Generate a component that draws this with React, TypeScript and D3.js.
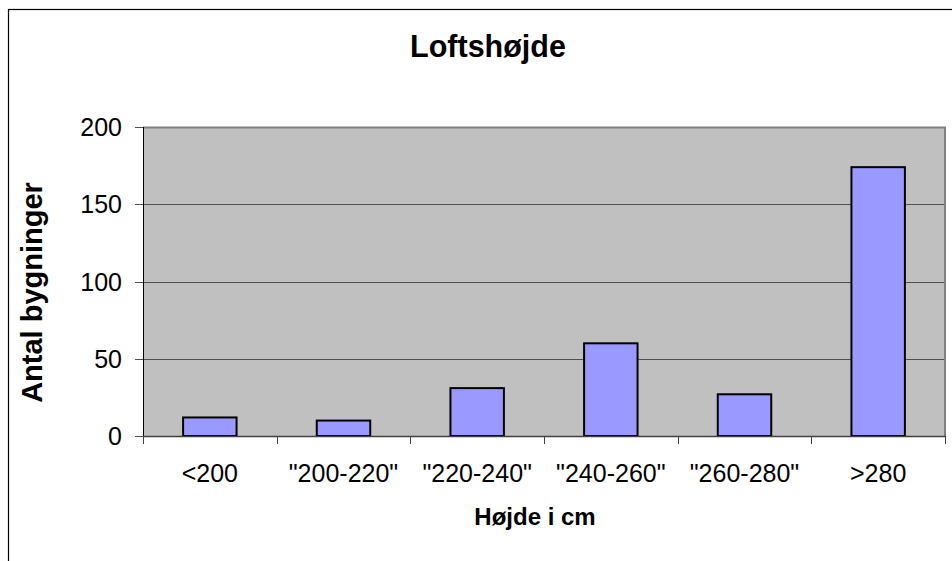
import { useEffect, useRef } from "react";
import * as d3 from "d3";

const categories = ["<200", "\"200-220\"", "\"220-240\"", "\"240-260\"", "\"260-280\"", ">280"];
const counts = [12, 10, 31, 60, 27, 174];
const yTicks = [0, 50, 100, 150, 200];

const App = () => {
  const svgRef = useRef<SVGSVGElement>(null);

  useEffect(() => {
    const svg = d3.select(svgRef.current);
    svg.selectAll("*").remove();

    const width = 952;
    const height = 561;
    const plot = { left: 143, right: 945, top: 127, bottom: 436 };
    const font = "Arial, 'Liberation Sans', sans-serif";

    // outer chart frame, runs off the right and bottom edges
    svg.append("rect").attr("x", 8.5).attr("y", 9.5).attr("width", width + 20).attr("height", height + 20)
      .attr("fill", "#fff").attr("stroke", "#000").attr("stroke-width", 1.2);

    const x = d3.scaleBand().domain(categories).range([plot.left, plot.right]).paddingInner(0).paddingOuter(0);
    const y = d3.scaleLinear().domain([0, 200]).range([plot.bottom, plot.top]);

    svg.append("rect").attr("x", plot.left).attr("y", plot.top).attr("width", plot.right - plot.left)
      .attr("height", plot.bottom - plot.top).attr("fill", "#c0c0c0");

    // gridlines
    svg.append("g").selectAll("line").data(yTicks.filter((d) => d > 0 && d < 200)).join("line")
      .attr("x1", plot.left).attr("x2", plot.right)
      .attr("y1", (d) => Math.round(y(d)) + 0.5).attr("y2", (d) => Math.round(y(d)) + 0.5)
      .attr("stroke", "#505050").attr("stroke-width", 1);

    // plot border top/right
    svg.append("path")
      .attr("d", `M${plot.left},${plot.top + 0.5}H${plot.right}V${plot.bottom}`)
      .attr("fill", "none").attr("stroke", "#808080").attr("stroke-width", 2);

    // bars
    const bw = x.bandwidth() / 2.5;
    svg.append("g").selectAll("rect").data(counts).join("rect")
      .attr("x", (d, i) => (x(categories[i]) as number) + x.bandwidth() / 2 - bw / 2)
      .attr("y", (d) => y(d))
      .attr("width", bw)
      .attr("height", (d) => y(0) - y(d))
      .attr("fill", "#9999ff").attr("stroke", "#000").attr("stroke-width", 2);

    // y axis
    svg.append("line").attr("x1", plot.left + 0.5).attr("x2", plot.left + 0.5)
      .attr("y1", plot.top).attr("y2", plot.bottom + 7).attr("stroke", "#000").attr("stroke-width", 1);
    const yAxis = svg.append("g");
    yAxis.selectAll("line").data(yTicks).join("line")
      .attr("x1", plot.left - 8).attr("x2", plot.left)
      .attr("y1", (d) => Math.round(y(d)) + 0.5).attr("y2", (d) => Math.round(y(d)) + 0.5)
      .attr("stroke", "#505050").attr("stroke-width", 1);
    yAxis.selectAll("text").data(yTicks).join("text")
      .attr("x", plot.left - 21).attr("y", (d) => y(d))
      .attr("dy", "0.36em").attr("text-anchor", "end")
      .attr("font-family", font).attr("font-size", 25).text((d) => d);

    // x axis
    svg.append("line").attr("x1", plot.left).attr("x2", plot.right)
      .attr("y1", plot.bottom + 0.5).attr("y2", plot.bottom + 0.5).attr("stroke", "#404040").attr("stroke-width", 1.5);
    const bounds = [...categories.map((c) => x(c) as number), plot.right];
    svg.append("g").selectAll("line").data(bounds).join("line")
      .attr("x1", (d) => Math.round(d) + 0.5).attr("x2", (d) => Math.round(d) + 0.5)
      .attr("y1", plot.bottom).attr("y2", plot.bottom + 8)
      .attr("stroke", "#404040").attr("stroke-width", 1);
    svg.append("g").selectAll("text").data(categories).join("text")
      .attr("x", (d) => (x(d) as number) + x.bandwidth() / 2)
      .attr("y", 482).attr("text-anchor", "middle")
      .attr("font-family", font).attr("font-size", 25).text((d) => d);

    // titles
    svg.append("text").attr("x", 488).attr("y", 57).attr("text-anchor", "middle")
      .attr("font-family", font).attr("font-size", 30.5).attr("font-weight", "bold").text("Loftshøjde");
    svg.append("text").attr("x", 535).attr("y", 525).attr("text-anchor", "middle")
      .attr("font-family", font).attr("font-size", 24).attr("font-weight", "bold").text("Højde i cm");
    svg.append("text").attr("transform", `translate(42,${(plot.top + plot.bottom) / 2 + 11}) rotate(-90)`)
      .attr("text-anchor", "middle")
      .attr("font-family", font).attr("font-size", 29).attr("font-weight", "bold").text("Antal bygninger");
  }, []);

  return (
    <svg ref={svgRef} width={952} height={561}
      style={{ position: "absolute", left: 0, top: 0, display: "block", background: "#fff" }} />
  );
};

export default App;
